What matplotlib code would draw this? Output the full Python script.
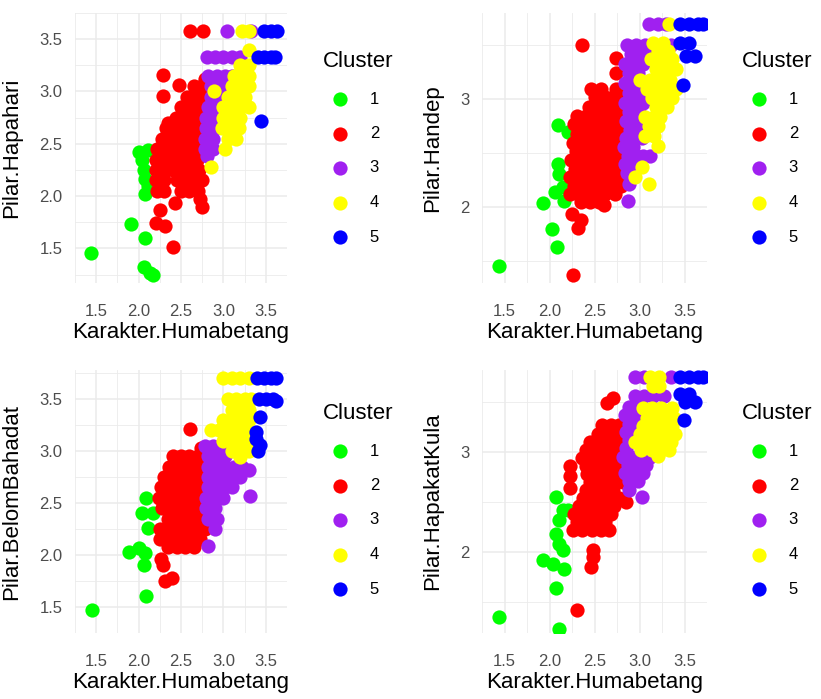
import matplotlib
matplotlib.use("Agg")
import matplotlib.pyplot as plt
import numpy as np

# cluster colours (R named colours)
cluster_names = ["1", "2", "3", "4", "5"]
cluster_colors = ["#00FF00", "#FF0000", "#A020F0", "#FFFF00", "#0000FF"]

x_title = "Karakter.Humabetang"

# ---- panel 1: Pilar.Hapahari ----
hapahari_c1 = [(1.44, 1.46), (1.91, 1.73), (2.07, 1.60), (2.06, 1.32), (2.17, 1.25), (2.13, 1.27),
               (2.00, 2.42), (2.11, 2.44), (2.04, 2.35), (2.06, 2.25), (2.07, 2.16), (2.11, 2.10), (2.08, 2.02)]
hapahari_c2 = [(2.61, 3.58), (2.76, 3.58), (2.29, 3.16), (2.29, 2.96), (2.48, 3.06), (2.35, 2.70), (2.41, 1.51),
               (2.31, 1.71), (2.20, 1.74), (2.25, 1.87), (2.43, 1.93), (2.75, 1.90), (2.72, 1.97),
               (2.65, 3.05), (2.75, 3.05), (2.78, 3.12),
               (2.57, 2.95), (2.67, 2.95), (2.76, 2.95),
               (2.50, 2.85), (2.61, 2.85), (2.71, 2.85), (2.80, 2.85),
               (2.44, 2.75), (2.54, 2.75), (2.64, 2.75), (2.74, 2.75),
               (2.32, 2.65), (2.41, 2.65), (2.51, 2.65), (2.61, 2.65), (2.71, 2.65), (2.80, 2.65),
               (2.28, 2.55), (2.37, 2.55), (2.47, 2.55), (2.57, 2.55), (2.67, 2.55), (2.77, 2.55),
               (2.22, 2.45), (2.33, 2.45), (2.43, 2.45), (2.53, 2.45), (2.63, 2.45), (2.72, 2.45),
               (2.20, 2.35), (2.29, 2.35), (2.39, 2.35), (2.49, 2.35), (2.59, 2.35), (2.69, 2.35),
               (2.21, 2.25), (2.31, 2.25), (2.41, 2.25), (2.51, 2.25), (2.61, 2.25), (2.71, 2.25),
               (2.20, 2.15), (2.30, 2.15), (2.45, 2.15), (2.55, 2.15), (2.65, 2.15), (2.75, 2.15),
               (2.22, 2.05), (2.30, 2.05), (2.50, 2.05), (2.60, 2.05), (2.70, 2.05)]
hapahari_c3 = [(3.04, 3.58), (3.33, 3.58),
               (2.81, 3.33), (2.90, 3.33), (3.00, 3.33), (3.10, 3.33), (3.20, 3.33),
               (2.82, 3.15), (2.92, 3.15), (3.02, 3.15), (3.10, 3.15),
               (2.85, 3.05), (2.95, 3.05), (3.05, 3.05),
               (2.85, 2.95), (2.95, 2.95), (2.82, 2.85), (2.92, 2.85),
               (2.80, 2.75), (2.90, 2.75), (2.80, 2.65), (2.90, 2.65),
               (2.78, 2.55), (2.88, 2.55), (2.78, 2.45), (2.88, 2.45), (2.81, 2.38)]
hapahari_c4 = [(3.22, 3.58), (3.30, 3.58), (3.30, 3.40), (3.20, 3.25), (3.30, 3.25),
               (3.12, 3.15), (3.22, 3.15), (3.30, 3.15), (3.10, 3.05), (3.20, 3.05), (3.30, 3.05),
               (3.05, 2.95), (3.15, 2.95), (3.25, 2.95), (2.89, 3.00),
               (3.00, 2.85), (3.10, 2.85), (3.20, 2.85), (3.30, 2.85),
               (3.00, 2.75), (3.10, 2.75), (3.20, 2.75), (2.98, 2.65), (3.08, 2.65), (3.18, 2.65),
               (3.05, 2.55), (3.15, 2.55), (3.02, 2.45), (2.85, 2.28)]
hapahari_c5 = [(3.48, 3.58), (3.56, 3.58), (3.63, 3.58), (3.41, 3.33), (3.48, 3.33), (3.56, 3.33), (3.61, 3.33),
               (3.44, 2.72)]

# ---- panel 2: Pilar.Handep ----
handep_c1 = [(1.44, 1.46), (1.93, 2.04), (2.03, 1.80), (2.08, 1.63), (2.09, 2.76), (2.20, 2.70), (2.09, 2.40),
             (2.11, 2.31), (2.06, 2.14), (2.15, 2.19), (2.16, 2.06)]
handep_c2 = [(2.36, 3.50), (2.26, 1.37), (2.25, 1.94), (2.32, 1.81), (2.35, 1.88),
             (2.74, 3.38), (2.74, 3.24),
             (2.46, 3.10), (2.57, 3.10), (2.74, 3.10), (2.81, 3.10),
             (2.51, 3.02), (2.62, 3.02), (2.71, 3.02), (2.83, 3.02),
             (2.44, 2.93), (2.55, 2.93), (2.66, 2.93), (2.77, 2.93), (2.86, 2.93),
             (2.31, 2.85), (2.41, 2.85), (2.50, 2.85), (2.61, 2.85), (2.72, 2.85), (2.81, 2.85),
             (2.27, 2.77), (2.36, 2.77), (2.46, 2.77), (2.56, 2.77), (2.66, 2.77), (2.76, 2.77), (2.85, 2.77),
             (2.30, 2.68), (2.41, 2.68), (2.51, 2.68), (2.62, 2.68), (2.71, 2.68), (2.82, 2.68),
             (2.26, 2.60), (2.35, 2.60), (2.46, 2.60), (2.57, 2.60), (2.67, 2.60), (2.77, 2.60), (2.87, 2.60),
             (2.29, 2.52), (2.40, 2.52), (2.50, 2.52), (2.60, 2.52), (2.70, 2.52), (2.80, 2.52),
             (2.24, 2.44), (2.34, 2.44), (2.45, 2.44), (2.55, 2.44), (2.65, 2.44), (2.75, 2.44), (2.83, 2.44),
             (2.28, 2.36), (2.38, 2.36), (2.48, 2.36), (2.58, 2.36), (2.69, 2.36), (2.79, 2.36),
             (2.23, 2.28), (2.33, 2.28), (2.43, 2.28), (2.53, 2.28), (2.63, 2.28), (2.74, 2.28), (2.84, 2.28),
             (2.27, 2.20), (2.37, 2.20), (2.47, 2.20), (2.57, 2.20), (2.68, 2.20), (2.79, 2.20),
             (2.23, 2.12), (2.32, 2.12), (2.42, 2.12), (2.52, 2.12), (2.62, 2.12), (2.73, 2.12),
             (2.35, 2.05), (2.45, 2.05), (2.55, 2.05), (2.61, 2.02)]
handep_c3 = [(3.10, 3.70), (3.20, 3.70), (3.29, 3.70),
             (2.86, 3.50), (2.96, 3.50), (3.06, 3.50), (3.35, 3.50),
             (2.90, 3.42), (3.01, 3.42), (3.10, 3.42), (2.84, 3.33), (2.94, 3.33), (3.04, 3.33),
             (2.88, 3.24), (2.98, 3.24), (2.84, 3.15), (2.94, 3.15), (3.04, 3.15),
             (2.88, 3.06), (2.99, 3.06), (2.84, 2.97), (2.94, 2.97), (3.04, 2.97),
             (2.88, 2.88), (2.99, 2.88), (2.85, 2.80), (2.95, 2.80), (3.05, 2.80), (3.15, 2.80),
             (2.89, 2.72), (2.99, 2.72), (2.85, 2.64), (2.95, 2.64), (3.03, 2.64),
             (2.83, 2.56), (2.93, 2.56), (2.87, 2.48), (2.97, 2.48), (3.04, 2.48), (3.12, 2.48),
             (2.84, 2.40), (2.92, 2.40), (2.86, 2.32), (2.88, 2.22), (2.87, 2.06)]
handep_c4 = [(3.33, 3.70), (3.15, 3.52), (3.26, 3.52), (3.20, 3.45), (3.32, 3.45),
             (3.13, 3.37), (3.24, 3.37), (3.36, 3.37), (3.18, 3.28), (3.29, 3.28), (3.40, 3.28),
             (3.01, 3.18), (3.12, 3.18), (3.23, 3.18), (3.34, 3.18),
             (3.08, 3.10), (3.18, 3.10), (3.29, 3.10), (3.40, 3.10),
             (3.14, 3.01), (3.25, 3.01), (3.36, 3.01), (3.18, 2.93), (3.30, 2.93),
             (3.06, 2.84), (3.16, 2.84), (3.23, 2.84), (3.10, 2.75), (3.21, 2.75),
             (3.06, 2.66), (3.16, 2.66), (3.20, 2.57), (3.03, 2.37), (2.95, 2.28), (3.10, 2.22)]
handep_c5 = [(3.45, 3.70), (3.55, 3.70), (3.65, 3.70), (3.70, 3.70), (3.45, 3.52), (3.55, 3.52),
             (3.52, 3.40), (3.62, 3.40), (3.48, 3.13)]

# ---- panel 3: Pilar.BelomBahadat ----
belom_c1 = [(1.45, 1.47), (2.09, 1.61), (1.89, 2.03), (2.00, 2.07), (2.07, 2.02), (2.06, 1.90), (2.09, 2.55),
            (2.04, 2.40), (2.17, 2.40), (2.11, 2.26)]
belom_c2 = [(2.61, 3.21), (2.73, 3.03), (2.26, 1.96), (2.29, 1.90), (2.31, 1.75), (2.39, 1.78),
            (2.40, 2.95), (2.50, 2.95), (2.60, 2.95), (2.70, 2.95),
            (2.36, 2.85), (2.46, 2.85), (2.56, 2.85), (2.66, 2.85), (2.75, 2.85),
            (2.30, 2.75), (2.40, 2.75), (2.50, 2.75), (2.60, 2.75), (2.70, 2.75), (2.78, 2.75),
            (2.26, 2.65), (2.36, 2.65), (2.46, 2.65), (2.56, 2.65), (2.66, 2.65), (2.75, 2.65),
            (2.24, 2.55), (2.33, 2.55), (2.43, 2.55), (2.53, 2.55), (2.63, 2.55), (2.74, 2.55),
            (2.28, 2.45), (2.40, 2.45), (2.50, 2.45), (2.60, 2.45), (2.70, 2.45),
            (2.35, 2.35), (2.45, 2.35), (2.55, 2.35), (2.65, 2.35), (2.75, 2.35),
            (2.25, 2.25), (2.35, 2.25), (2.45, 2.25), (2.55, 2.25), (2.65, 2.25), (2.78, 2.25),
            (2.25, 2.15), (2.36, 2.15), (2.46, 2.15), (2.60, 2.15), (2.72, 2.15),
            (2.35, 2.08), (2.45, 2.08), (2.55, 2.08), (2.65, 2.08)]
belom_c3 = [(2.78, 3.05), (2.88, 3.05), (2.98, 3.05), (2.82, 2.95), (2.92, 2.95), (3.02, 2.95),
            (2.82, 2.85), (2.92, 2.85), (3.02, 2.85), (3.12, 2.85), (3.22, 2.85), (3.30, 2.82),
            (2.82, 2.75), (2.92, 2.75), (3.02, 2.75), (3.12, 2.75), (3.20, 2.75),
            (2.82, 2.65), (2.92, 2.65), (3.02, 2.65), (3.10, 2.65),
            (2.80, 2.55), (2.90, 2.55), (3.00, 2.55), (3.31, 2.57),
            (2.80, 2.45), (2.90, 2.45), (2.82, 2.35), (2.92, 2.35), (2.90, 2.25), (2.82, 2.09)]
belom_c4 = [(3.00, 3.70), (3.10, 3.70), (3.20, 3.70), (3.30, 3.70),
            (3.05, 3.50), (3.15, 3.50), (3.25, 3.50), (3.33, 3.50),
            (3.10, 3.40), (3.20, 3.40), (3.30, 3.40), (3.00, 3.30), (3.10, 3.30), (3.20, 3.30), (3.30, 3.30),
            (2.85, 3.20), (2.95, 3.20), (3.05, 3.20), (3.15, 3.20), (3.25, 3.20),
            (3.00, 3.10), (3.10, 3.10), (3.20, 3.10), (3.30, 3.10),
            (3.10, 3.00), (3.20, 3.00), (3.30, 3.00), (3.20, 2.94)]
belom_c5 = [(3.40, 3.70), (3.48, 3.70), (3.56, 3.70), (3.62, 3.70), (3.42, 3.50), (3.50, 3.50), (3.58, 3.50),
            (3.62, 3.48), (3.43, 3.33), (3.39, 3.18), (3.43, 3.06), (3.41, 3.00), (3.38, 3.12)]

# ---- panel 4: Pilar.HapakatKula ----
hapakat_c1 = [(1.44, 1.35), (2.11, 1.23), (2.07, 1.64), (1.93, 1.92), (2.04, 1.88), (2.16, 1.83), (2.07, 2.55),
              (2.15, 2.42), (2.20, 2.42), (2.11, 2.32), (2.07, 2.18), (2.15, 2.02), (2.11, 2.08)]
hapakat_c2 = [(2.31, 1.42), (2.48, 2.02), (2.48, 1.95), (2.46, 1.85), (2.64, 3.49), (2.71, 3.54),
              (2.58, 3.27), (2.68, 3.27), (2.77, 3.27), (2.54, 3.18), (2.64, 3.18), (2.74, 3.18),
              (2.45, 3.10), (2.58, 3.10), (2.70, 3.10), (2.80, 3.10),
              (2.40, 3.02), (2.51, 3.02), (2.62, 3.02), (2.73, 3.02), (2.81, 3.02),
              (2.36, 2.94), (2.47, 2.94), (2.57, 2.94), (2.68, 2.94), (2.79, 2.94),
              (2.23, 2.86), (2.40, 2.86), (2.50, 2.86), (2.61, 2.86), (2.72, 2.86), (2.82, 2.86),
              (2.23, 2.76), (2.42, 2.78), (2.52, 2.78), (2.62, 2.78), (2.72, 2.78), (2.80, 2.78),
              (2.45, 2.70), (2.55, 2.70), (2.65, 2.70), (2.75, 2.70), (2.82, 2.70),
              (2.23, 2.64), (2.40, 2.62), (2.50, 2.62), (2.60, 2.62), (2.70, 2.62),
              (2.37, 2.54), (2.47, 2.54), (2.57, 2.54), (2.67, 2.54), (2.77, 2.54), (2.85, 2.50),
              (2.33, 2.46), (2.43, 2.46), (2.53, 2.46), (2.63, 2.46), (2.72, 2.46),
              (2.27, 2.38), (2.37, 2.38), (2.48, 2.38), (2.58, 2.38), (2.68, 2.38),
              (2.30, 2.30), (2.41, 2.30), (2.52, 2.30), (2.62, 2.30),
              (2.26, 2.22), (2.36, 2.22), (2.47, 2.22), (2.57, 2.22), (2.66, 2.22)]
hapakat_c3 = [(2.95, 3.75), (3.05, 3.75), (3.35, 3.75),
              (2.95, 3.56), (3.05, 3.56), (3.15, 3.56), (3.27, 3.56),
              (2.88, 3.45), (2.98, 3.45), (2.84, 3.37), (2.95, 3.37), (3.02, 3.37),
              (2.88, 3.28), (2.98, 3.28), (2.85, 3.20), (2.95, 3.20), (2.88, 3.12), (2.85, 3.04),
              (2.82, 2.95), (2.92, 2.95), (3.02, 2.95), (3.12, 2.95),
              (2.87, 2.87), (2.97, 2.87), (3.07, 2.87), (2.84, 2.79), (2.94, 2.79), (3.04, 2.79),
              (2.88, 2.71), (2.98, 2.71), (2.88, 2.62), (3.03, 2.55)]
hapakat_c4 = [(3.12, 3.75), (3.22, 3.75), (3.15, 3.66), (3.22, 3.66),
              (3.04, 3.44), (3.14, 3.44), (3.24, 3.44), (3.36, 3.44),
              (3.08, 3.34), (3.18, 3.34), (3.29, 3.34), (3.38, 3.34),
              (3.04, 3.26), (3.14, 3.26), (3.24, 3.26), (3.36, 3.26),
              (3.00, 3.18), (3.10, 3.18), (3.20, 3.18), (3.30, 3.18), (3.39, 3.18),
              (2.95, 3.10), (3.05, 3.10), (3.15, 3.10), (3.25, 3.10), (3.35, 3.10),
              (3.02, 3.02), (3.14, 3.02), (3.24, 3.02), (3.33, 3.02), (3.20, 2.96)]
hapakat_c5 = [(3.45, 3.75), (3.55, 3.75), (3.65, 3.75), (3.70, 3.75), (3.45, 3.58), (3.55, 3.58),
              (3.50, 3.50), (3.62, 3.50), (3.49, 3.32)]

panels = [
    ("Pilar.Hapahari", [hapahari_c1, hapahari_c2, hapahari_c3, hapahari_c4, hapahari_c5],
     (1.32, 3.70), (1.17, 3.68), [1.5, 2.0, 2.5, 3.0, 3.5], ["1.5", "2.0", "2.5", "3.0", "3.5"]),
    ("Pilar.Handep", [handep_c1, handep_c2, handep_c3, handep_c4, handep_c5],
     (1.35, 3.74), (1.30, 3.80), [2, 3], ["2", "3"]),
    ("Pilar.BelomBahadat", [belom_c1, belom_c2, belom_c3, belom_c4, belom_c5],
     (1.32, 3.70), (1.43, 3.78), [1.5, 2.0, 2.5, 3.0, 3.5], ["1.5", "2.0", "2.5", "3.0", "3.5"]),
    ("Pilar.HapakatKula", [hapakat_c1, hapakat_c2, hapakat_c3, hapakat_c4, hapakat_c5],
     (1.35, 3.74), (1.19, 3.82), [2, 3], ["2", "3"]),
]

plt.rcParams['font.family'] = ['Liberation Sans', 'DejaVu Sans']
W, H = 821, 699
fig = plt.figure(figsize=(W / 100, H / 100), dpi=100)

# axes boxes in pixels: left, top, right, bottom
boxes = [(75, 13, 287, 283), (482, 13, 707, 283), (75, 370, 287, 633), (482, 370, 707, 633)]
ylab_x = [22, 443, 22, 443]
legend_pos = [(323, 51), (742, 51), (323, 403), (742, 403)]

x_ticks = [1.5, 2.0, 2.5, 3.0, 3.5]
x_ticklabels = ["1.5", "2.0", "2.5", "3.0", "3.5"]

for i, (ytitle, clusters, xlim, ylim, yticks, yticklabels) in enumerate(panels):
    l, t, r, b = boxes[i]
    ax = fig.add_axes([l / W, (H - b) / H, (r - l) / W, (b - t) / H])
    for k, pts in enumerate(clusters):
        arr = np.array(pts)
        ax.scatter(arr[:, 0], arr[:, 1], s=105, color=cluster_colors[k], linewidths=0,
                   label=cluster_names[k], zorder=3)
    ax.set_xlim(*xlim)
    ax.set_ylim(*ylim)
    ax.set_xticks(x_ticks)
    ax.set_xticklabels(x_ticklabels)
    ax.set_yticks(yticks)
    ax.set_yticklabels(yticklabels)
    # minor gridlines halfway between majors
    xs = np.array(x_ticks)
    ax.set_xticks(list((xs[:-1] + xs[1:]) / 2) + [xs[0] - 0.25, xs[-1] + 0.25], minor=True)
    ys = np.array(yticks, dtype=float)
    step = ys[1] - ys[0]
    ax.set_yticks(list(np.append(ys - step / 2, ys[-1] + step / 2)), minor=True)
    ax.grid(True, which='major', color='#EBEBEB', linewidth=1.1, zorder=0)
    ax.grid(True, which='minor', color='#EBEBEB', linewidth=0.6, zorder=0)
    ax.set_axisbelow(True)
    for s in ax.spines.values():
        s.set_visible(False)
    ax.tick_params(axis='both', which='both', length=0, labelsize=12, labelcolor='#4D4D4D')
    ax.tick_params(axis='x', pad=15)
    ax.tick_params(axis='y', pad=9)
    ax.set_xlabel(x_title, fontsize=16, color='black')
    ax.set_ylabel(ytitle, fontsize=16, color='black')
    ax.xaxis.set_label_coords(0.5, -39 / (b - t))
    ax.yaxis.set_label_coords((ylab_x[i] - l) / (r - l), 0.5)
    lx, ly = legend_pos[i]
    ax.legend(loc='upper left', bbox_to_anchor=(lx / W, 1 - ly / H), bbox_transform=fig.transFigure,
              frameon=False, title='Cluster', title_fontsize=16, fontsize=12,
              borderpad=0, borderaxespad=0, labelspacing=1.17, handletextpad=0.8,
              handlelength=2.0, alignment='left')

fig.savefig("out.png", dpi=100)
